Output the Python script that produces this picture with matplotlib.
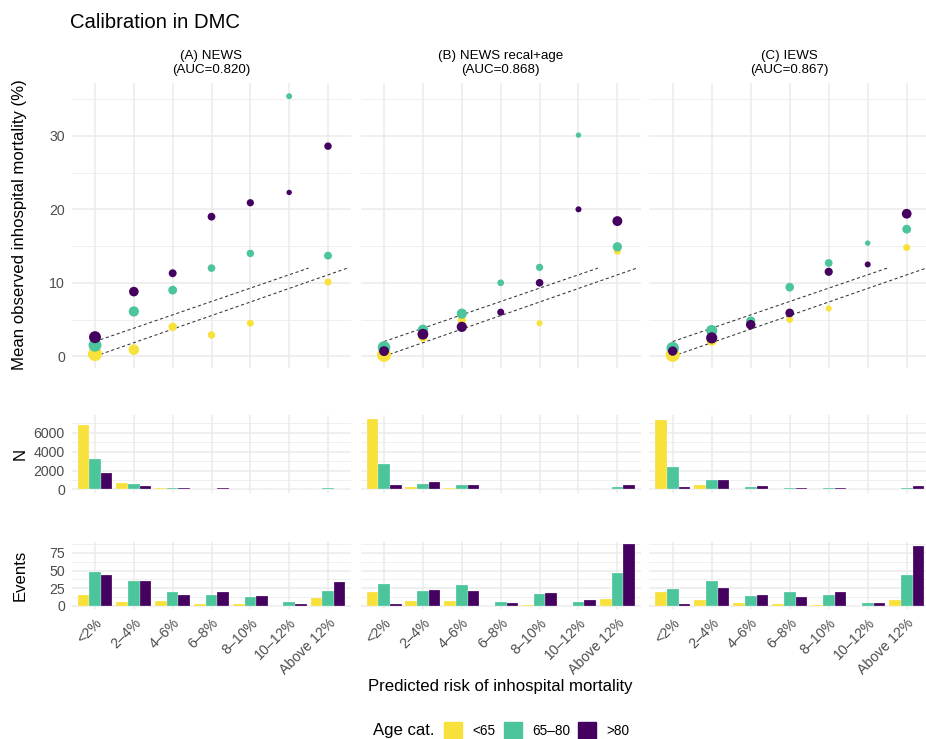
import numpy as np
import matplotlib.pyplot as plt
from matplotlib.patches import Rectangle

plt.rcParams['font.family'] = ['Liberation Sans', 'DejaVu Sans']

risk_bins = ['<2%', '2–4%', '4–6%', '6–8%', '8–10%', '10–12%', 'Above 12%']
age_groups = ['<65', '65–80', '>80']
model_titles = ['(A) NEWS\n(AUC=0.820)', '(B) NEWS recal+age\n(AUC=0.868)', '(C) IEWS\n(AUC=0.867)']

# mean observed mortality (%) per risk bin; rows are age groups <65, 65-80, >80
obs_a = [[0.3, 0.9, 4.0, 2.9, 4.5, np.nan, 10.1],
         [1.5, 6.1, 9.0, 12.0, 14.0, 35.4, 13.7],
         [2.6, 8.8, 11.3, 19.0, 20.9, 22.3, 28.6]]
obs_b = [[0.2, 2.6, 4.9, np.nan, 4.5, np.nan, 14.3],
         [1.2, 3.6, 5.8, 10.0, 12.1, 30.1, 14.9],
         [0.7, 3.0, 4.0, 6.0, 10.0, 20.0, 18.4]]
obs_c = [[0.2, 2.1, 4.3, 5.0, 6.5, np.nan, 14.8],
         [1.1, 3.5, 4.8, 9.4, 12.7, 15.4, 17.3],
         [0.7, 2.5, 4.3, 5.9, 11.5, 12.5, 19.4]]

# number of patients
n_a = [[6880, 640, 160, 80, 60, 0, 60],
       [3180, 530, 200, 90, 80, 30, 110],
       [1700, 350, 110, 100, 70, 20, 80]]
n_b = [[7480, 250, 140, 0, 30, 0, 60],
       [2680, 570, 500, 50, 70, 20, 270],
       [420, 780, 520, 60, 90, 30, 420]]
n_c = [[7340, 420, 70, 50, 30, 0, 60],
       [2400, 990, 270, 180, 100, 20, 200],
       [280, 990, 330, 180, 130, 30, 380]]

# number of deaths
ev_a = [[16, 6, 7, 3, 3, 0, 11],
        [48, 35, 19, 15, 12, 6, 21],
        [44, 35, 15, 19, 14, 2, 34]]
ev_b = [[20, 7, 7, 0, 1, 0, 10],
        [31, 21, 30, 5, 17, 6, 46],
        [3, 23, 21, 4, 18, 8, 87]]
ev_c = [[19, 9, 4, 3, 1, 0, 9],
        [24, 35, 14, 19, 16, 4, 44],
        [2, 25, 16, 13, 19, 4, 85]]

# bin bounds of predicted risk, drawn as dashed reference segments
ref_lower = ([0, 6.5], [0, 12])
ref_upper = ([0, 5.5], [2, 12])

colors = ['#F7E13A', '#4CC49C', '#45015F']
grid_col = '#EBEBEB'
tick_col = '#4D4D4D'

W, H = 926, 739
fig = plt.figure(figsize=(W / 100, H / 100), dpi=100)


def px_axes(x0, y0, x1, y1):
    return fig.add_axes([x0 / W, 1 - y1 / H, (x1 - x0) / W, (y1 - y0) / H])


def style(ax, ylim, major, minor, show_y, show_x):
    ax.set_xlim(-0.6, 6.6)
    ax.set_ylim(*ylim)
    ax.set_xticks(range(len(risk_bins)))
    ax.set_yticks(major)
    ax.set_yticks(minor, minor=True)
    ax.grid(True, which='major', color=grid_col, lw=1.1)
    ax.grid(True, which='minor', axis='y', color=grid_col, lw=0.55)
    ax.set_axisbelow(True)
    for s in ax.spines.values():
        s.set_visible(False)
    ax.tick_params(length=0, which='both', labelsize=10.2, colors=tick_col)
    ax.tick_params(axis='y', pad=5)
    if not show_y:
        ax.set_yticklabels([])
    if show_x:
        ax.set_xticklabels(risk_bins, rotation=45, ha='right', va='top',
                           rotation_mode='anchor')
        ax.tick_params(axis='x', pad=5)
    else:
        ax.set_xticklabels([])


def dot_size(n):
    n = np.maximum(np.asarray(n, float), 1)
    d = 5.4 + 3.4 * (np.log10(n) - 1.3)   # diameter in px
    d = np.clip(d, 4.5, 15)
    return (d * 0.72) ** 2


col_x = [(71.7, 351.3), (360.7, 640.7), (649.3, 930.1)]
row_y = [(83, 368), (415, 493), (542, 609)]
x = np.arange(len(risk_bins))
bar_edge = (1, 1, 1, 0.6)

for c, (obs, n, ev, title) in enumerate(zip([obs_a, obs_b, obs_c], [n_a, n_b, n_c],
                                             [ev_a, ev_b, ev_c], model_titles)):
    x0, x1 = col_x[c]

    # calibration points
    ax = px_axes(x0, row_y[0][0], x1, row_y[0][1])
    style(ax, (-1.6, 37.2), [0, 10, 20, 30], [5, 15, 25, 35], c == 0, False)
    ax.plot(*ref_lower, ls=(0, (3, 2.5)), color='#333333', lw=0.75)
    ax.plot(*ref_upper, ls=(0, (3, 2.5)), color='#333333', lw=0.75)
    for g in range(3):
        ax.scatter(x, obs[g], s=dot_size(n[g]), color=colors[g], lw=0, zorder=3 + g)
    fig.text((x0 + x1) / 2 / W, 1 - 63 / H, title,
             ha='center', va='center', fontsize=9.6, linespacing=1.3)

    # number of patients
    ax = px_axes(x0, row_y[1][0], x1, row_y[1][1])
    style(ax, (-380, 7900), [0, 2000, 4000, 6000], [1000, 3000, 5000, 7000], c == 0, False)
    for g in range(3):
        ax.bar(x + (g - 1) * 0.3, n[g], width=0.3, color=colors[g],
               edgecolor=bar_edge, lw=0.3)

    # number of events
    ax = px_axes(x0, row_y[2][0], x1, row_y[2][1])
    style(ax, (-4.4, 90.5), [0, 25, 50, 75], [12.5, 37.5, 62.5, 87.5], c == 0, True)
    for g in range(3):
        ax.bar(x + (g - 1) * 0.3, ev[g], width=0.3, color=colors[g],
               edgecolor=bar_edge, lw=0.3)

fig.text(70 / W, 1 - 22 / H, 'Calibration in DMC', ha='left', va='center', fontsize=14.6)
fig.text(20 / W, 1 - 225 / H, 'Mean observed inhospital mortality (%)', rotation=90,
         ha='center', va='center', fontsize=12.1)
fig.text(20 / W, 1 - 454 / H, 'N', rotation=90, ha='center', va='center', fontsize=12.1)
fig.text(20 / W, 1 - 575 / H, 'Events', rotation=90, ha='center', va='center', fontsize=12.1)
fig.text(500 / W, 1 - 686 / H, 'Predicted risk of inhospital mortality',
         ha='center', va='center', fontsize=12.1)

# legend along the bottom
fig.text(373 / W, 1 - 731 / H, 'Age cat.', ha='left', va='center', fontsize=12.1)
key_x = [444, 504, 578]
for kx, col, lab in zip(key_x, colors, age_groups):
    fig.patches.append(Rectangle((kx / W, 1 - 739 / H), 17.5 / W, 17.5 / H,
                                 transform=fig.transFigure, color=col))
    fig.text((kx + 28) / W, 1 - 731 / H, lab, ha='left', va='center', fontsize=9.8)

fig.savefig('out.png', dpi=100)
